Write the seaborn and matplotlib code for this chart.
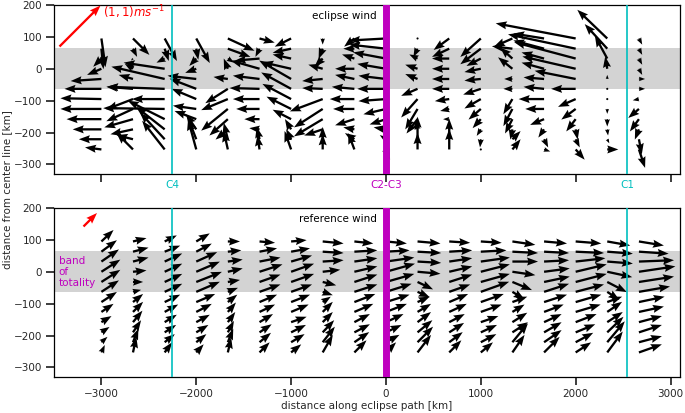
"""
Eclipse wind vs reference wind along the eclipse path (quiver panels).
"""

import numpy as np
import matplotlib
matplotlib.use("Agg")
import matplotlib.pyplot as plt
import seaborn as sns

# grid of arrow positions [km]
path_x = [-3000, -2667, -2333, -2000, -1667, -1333, -1000, -667, -333,
          0, 333, 667, 1000, 1333, 1667, 2000, 2333, 2667]
cross_y = [95, 63, 32, 0, -32, -63, -95, -126, -158, -190, -221, -253]

# eclipse wind [m/s], one list per column (top row first)
ecl_u = [
    [0.1, 0.05, -0.2, -0.35, -0.75, -0.9, -1.0, -1.0, -0.85, -0.7, -0.55, -0.4],
    [0.4, 0.1, -0.05, -0.2, -0.35, -0.65, -0.65, -0.65, -0.7, -0.55, -0.4, -0.4],
    [0.3, 0.1, -0.2, -1.0, -1.3, -1.4, -0.8, -1.5, -0.9, -0.7, -0.6, -0.55],
    [0.33, 0.05, -0.17, -0.27, -0.7, -0.65, -0.6, -0.57, -0.53, -0.25, -0.2, -0.2],
    [0.65, 0.55, 0.15, -0.1, -0.35, -0.55, -0.65, -0.65, -0.45, -0.3, -0.1, -0.1],
    [0.37, -0.1, -0.6, -0.7, -0.65, -0.73, -0.65, -0.57, -0.37, -0.25, -0.07, -0.05],
    [-0.4, -0.45, -0.45, -0.7, -0.78, -0.73, -0.7, -0.6, -0.45, -0.15, -0.12, -0.16],
    [0.0, -0.1, -0.2, -0.35, -0.5, -0.5, -0.8, -0.7, -0.7, -0.45, 0.0, 0.0],
    [-0.25, -0.27, -0.3, -0.47, -0.47, -0.55, -0.6, -0.52, -0.47, -0.27, -0.23, -0.15],
    [-0.9, -0.9, -0.8, -0.7, -0.67, -0.7, -0.67, -0.55, -0.4, -0.3, -0.15, 0.1],
    [0.0, -0.1, -0.2, -0.3, -0.3, -0.4, -0.4, -0.3, -0.27, -0.05, 0.0, 0.0],
    [-0.38, -0.42, -0.42, -0.42, -0.42, -0.42, -0.35, -0.22, -0.15, 0.0, 0.0, 0.0],
    [-0.5, -0.5, -0.35, -0.4, -0.4, -0.43, -0.4, -0.3, -0.2, -0.1, -0.02, 0.0],
    [-0.45, -0.5, -0.3, -0.35, -0.2, -0.22, -0.22, -0.22, -0.18, -0.05, 0.2, 0.2],
    [-0.75, -0.75, -0.55, -0.55, -0.5, -0.5, -0.62, -0.46, -0.34, -0.14, 0.1, 0.15],
    [-1.95, -1.65, -1.5, -1.3, -1.0, -0.6, -0.43, -0.35, -0.23, 0.05, 0.1, 0.22],
    [-0.73, -0.55, -0.3, -0.05, 0.0, 0.0, 0.0, 0.0, 0.0, 0.02, 0.05, 0.27],
    [0.08, 0.08, 0.08, 0.08, 0.15, 0.15, -0.15, -0.26, -0.22, -0.1, 0.07, 0.15],
]
ecl_v = [
    [-0.7, -0.5, -0.2, -0.15, -0.05, 0.0, 0.02, 0.0, 0.0, 0.0, 0.0, 0.05],
    [-0.4, -0.2, -0.05, 0.12, 0.1, 0.05, -0.25, -0.3, -0.2, -0.12, 0.1, 0.4],
    [-0.55, -0.3, -0.1, 0.15, 0.3, 0.05, 0.0, 0.02, 0.45, 0.55, 0.65, 0.7],
    [-0.6, -0.27, -0.18, -0.1, 0.08, 0.25, 0.25, 0.08, 0.2, 0.37, 0.52, 0.73],
    [-0.3, -0.2, -0.1, 0.25, 0.05, -0.35, -0.27, -0.53, -0.4, -0.25, 0.4, 0.45],
    [-0.1, -0.2, -0.05, 0.2, 0.08, 0.02, 0.0, 0.0, 0.0, 0.03, 0.3, 0.35],
    [-0.2, -0.1, 0.1, 0.16, 0.45, 0.4, 0.37, 0.3, 0.23, 0.25, 0.25, 0.45],
    [-0.15, -0.25, -0.2, 0.1, -0.05, 0.02, -0.3, -0.45, -0.42, -0.15, 0.3, 0.37],
    [-0.2, 0.0, 0.1, 0.0, 0.1, 0.05, 0.0, 0.0, -0.15, 0.05, 0.15, 0.4],
    [-0.05, 0.1, 0.15, 0.12, 0.08, 0.0, -0.05, -0.13, -0.13, 0.05, 0.1, -0.25],
    [-0.05, -0.2, 0.1, 0.1, 0.12, -0.17, -0.45, -0.5, -0.35, 0.2, 0.55, 0.4],
    [-0.28, -0.2, 0.0, 0.0, 0.0, 0.0, -0.05, -0.05, 0.0, 0.05, 0.5, 0.5],
    [-0.45, -0.38, -0.18, -0.08, -0.04, -0.14, -0.23, -0.26, -0.22, -0.16, -0.2, -0.05],
    [-0.2, 0.06, 0.27, 0.28, 0.0, 0.0, -0.37, -0.42, -0.35, -0.25, 0.2, 0.25],
    [0.12, 0.2, 0.15, 0.15, 0.04, 0.05, 0.0, 0.0, -0.14, -0.2, -0.2, -0.05],
    [0.37, 0.35, 0.4, 0.3, 0.2, 0.0, -0.19, -0.26, -0.3, -0.25, -0.2, -0.25],
    [0.7, 0.6, 0.55, 0.3, 0.1, 0.03, -0.05, -0.12, -0.18, -0.15, -0.1, 0.0],
    [-0.15, -0.15, -0.15, -0.15, 0.0, 0.0, -0.03, -0.22, -0.3, -0.25, -0.37, -0.45],
]

# reference wind [m/s]
ref_u = [
    [0.9, 1.15, 1.3, 1.4, 1.4, 1.3, 1.15, 0.9, 0.75, 0.6, 0.45, 0.25],
    [1.0, 1.15, 1.15, 1.0, 0.75, 0.6, 0.75, 0.75, 0.7, 0.6, 0.4, 0.25],
    [0.9, 1.15, 1.3, 1.3, 1.3, 1.3, 1.15, 1.0, 0.9, 0.85, 0.75, 0.55],
    [1.0, 1.15, 1.55, 1.75, 1.9, 1.75, 1.4, 1.15, 1.0, 0.9, 0.75, 0.55],
    [0.9, 1.0, 1.1, 1.1, 0.9, 0.75, 0.7, 0.6, 0.55, 0.45, 0.4, 0.25],
    [1.15, 1.3, 1.55, 1.7, 1.55, 1.55, 1.3, 1.15, 1.0, 0.9, 0.85, 0.75],
    [1.15, 1.4, 1.55, 1.7, 1.7, 1.55, 1.4, 1.3, 1.15, 1.1, 1.0, 0.75],
    [1.55, 1.55, 1.55, 1.3, 1.0, 0.75, 0.6, 0.75, 0.75, 0.85, 0.9, 0.75],
    [1.4, 1.7, 1.7, 1.7, 1.7, 1.7, 1.55, 1.4, 1.15, 1.15, 1.1, 0.9],
    [1.55, 1.75, 2.1, 2.15, 2.1, 1.9, 1.75, 1.55, 1.3, 1.15, 1.0, 0.75],
    [1.7, 1.75, 1.75, 1.7, 1.15, 0.9, 0.9, 1.0, 1.0, 1.1, 1.15, 1.0],
    [1.55, 1.7, 1.7, 1.7, 1.7, 1.55, 1.4, 1.3, 1.15, 1.1, 1.0, 0.9],
    [1.55, 1.9, 2.15, 2.15, 2.15, 2.1, 1.7, 1.55, 1.3, 1.2, 1.15, 0.9],
    [1.7, 1.9, 1.9, 1.7, 1.45, 0.9, 1.1, 0.9, 1.1, 1.15, 1.15, 0.9],
    [1.7, 1.85, 1.85, 1.9, 1.9, 1.85, 1.7, 1.45, 1.3, 1.3, 1.3, 1.15],
    [1.9, 2.1, 2.2, 2.3, 2.3, 2.1, 1.9, 1.85, 1.55, 1.45, 1.3, 1.15],
    [1.7, 1.9, 1.9, 1.85, 1.45, 0.9, 1.1, 1.1, 1.15, 1.2, 1.3, 1.15],
    [1.85, 2.2, 2.6, 2.7, 2.6, 2.3, 1.9, 1.85, 1.7, 1.7, 1.7, 1.7],
]
ref_v = [
    [0.85, 0.85, 0.9, 0.9, 0.9, 0.85, 0.75, 0.6, 0.45, 0.4, 0.4, 0.55],
    [0.25, 0.3, 0.3, 0.1, 0.0, 0.15, 0.6, 0.75, 0.85, 0.9, 1.0, 1.15],
    [0.45, 0.45, 0.6, 0.6, 0.6, 0.6, 0.55, 0.55, 0.55, 0.55, 0.6, 0.75],
    [0.6, 0.6, 0.7, 0.75, 0.75, 0.75, 0.6, 0.6, 0.55, 0.55, 0.6, 0.6],
    [0.0, 0.1, 0.15, 0.25, 0.15, 0.3, 0.55, 0.7, 0.75, 0.85, 1.0, 1.1],
    [-0.1, 0.25, 0.3, 0.55, 0.55, 0.55, 0.55, 0.55, 0.6, 0.6, 0.7, 0.75],
    [0.1, 0.25, 0.45, 0.6, 0.6, 0.55, 0.55, 0.55, 0.4, 0.55, 0.6, 0.6],
    [-0.15, -0.1, 0.1, 0.15, -0.25, -0.25, 0.4, 0.75, 0.75, 0.9, 1.15, 1.3],
    [-0.15, 0.1, 0.25, 0.4, 0.55, 0.55, 0.6, 0.6, 0.6, 0.6, 0.75, 0.9],
    [-0.15, 0.1, 0.3, 0.6, 0.6, 0.6, 0.55, 0.6, 0.6, 0.55, 0.55, 0.75],
    [-0.15, -0.1, -0.1, -0.15, -0.55, -0.4, 0.4, 0.6, 0.75, 0.9, 1.15, 1.3],
    [-0.1, 0.1, 0.25, 0.4, 0.55, 0.55, 0.6, 0.6, 0.6, 0.7, 0.75, 0.9],
    [-0.1, 0.1, 0.3, 0.55, 0.6, 0.75, 0.6, 0.55, 0.45, 0.55, 0.6, 0.75],
    [-0.25, -0.1, 0.0, -0.25, -0.6, -0.55, 0.4, 0.55, 0.7, 0.75, 1.4, 1.3],
    [-0.15, -0.1, 0.1, 0.25, 0.4, 0.6, 0.55, 0.55, 0.6, 0.75, 0.9, 1.15],
    [-0.15, -0.1, 0.25, 0.55, 0.6, 0.55, 0.55, 0.55, 0.6, 0.6, 0.7, 0.75],
    [-0.3, -0.15, -0.15, -0.4, -0.75, -0.6, 0.4, 0.75, 0.75, 1.15, 1.55, 1.55],
    [-0.3, -0.15, 0.1, 0.4, 0.4, 0.4, 0.4, 0.4, 0.45, 0.55, 0.45, 0.6],
]

# contact lines [km] and band of totality half width [km]
CYAN = "#00bfbf"
MAGENTA = "#bf00bf"
contacts = [("C4", -2257, CYAN), ("C2-C3", 0, MAGENTA), ("C1", 2542, CYAN)]
band_half = 65

sns.set_theme(style="ticks", color_codes=False,
              rc={"font.size": 7.5, "axes.labelsize": 7.5,
                  "xtick.labelsize": 7.5, "ytick.labelsize": 7.5,
                  "xtick.major.pad": 2.5, "ytick.major.pad": 2.5,
                  "axes.edgecolor": "black", "axes.linewidth": 0.9})

fig = plt.figure(figsize=(6.85, 4.13), dpi=100)
ax1 = fig.add_axes([0.0788, 0.5787, 0.9139, 0.4092])
ax2 = fig.add_axes([0.0788, 0.0872, 0.9139, 0.4092], sharex=ax1)

X, Y = np.meshgrid(path_x, cross_y, indexing="ij")
arrow_kw = dict(units="dots", width=2.3, headwidth=3.5, headlength=4.8,
                headaxislength=4.3, scale_units="dots", pivot="tail")

for ax, u, v, px_per_ms, title in [
    (ax1, ecl_u, ecl_v, 41, "eclipse wind"),
    (ax2, ref_u, ref_v, 13.5, "reference wind"),
]:
    ax.axhspan(-band_half, band_half, color="lightgrey", lw=0, zorder=0)
    ax.quiver(X, Y, np.array(u), np.array(v), color="black",
              scale=1 / px_per_ms, zorder=2, **arrow_kw)
    for name, xc, col in contacts:
        lw = 5 if col == MAGENTA else 1.2
        ax.axvline(xc, color=col, lw=lw, zorder=3)
    ax.text(-100, 165, title, ha="right", va="center", color="black")
    ax.set_xlim(-3500, 3100)
    ax.set_ylim(-330, 200)
    ax.set_xticks([-3000, -2000, -1000, 0, 1000, 2000, 3000])
    ax.set_yticks([-300, -200, -100, 0, 100, 200])

plt.setp(ax1.get_xticklabels(), visible=False)

# (1,1) m/s reference arrows
ax1.quiver([-3450], [70], [1], [1], color="red", scale=1 / 41, zorder=4, **arrow_kw)
ax1.text(-2980, 178, r"$(1,1)ms^{-1}$", color="red", ha="left", va="center",
         fontsize=8.5)
ax2.quiver([-3196], [143], [1], [1], color="red", scale=1 / 13.5, zorder=4, **arrow_kw)

ax2.text(-3450, 0, "band\nof\ntotality", color=MAGENTA, ha="left", va="center",
         linespacing=1.1)
for name, xc, col in contacts:
    ax2.text(xc, 272, name, color=col, ha="center", va="center", clip_on=False)

ax2.set_xlabel("distance along eclipse path [km]", labelpad=1.5)
fig.text(0.011, 0.54, "distance from center line [km]", rotation=90,
         ha="center", va="center")

fig.savefig("out.png", dpi=100)
